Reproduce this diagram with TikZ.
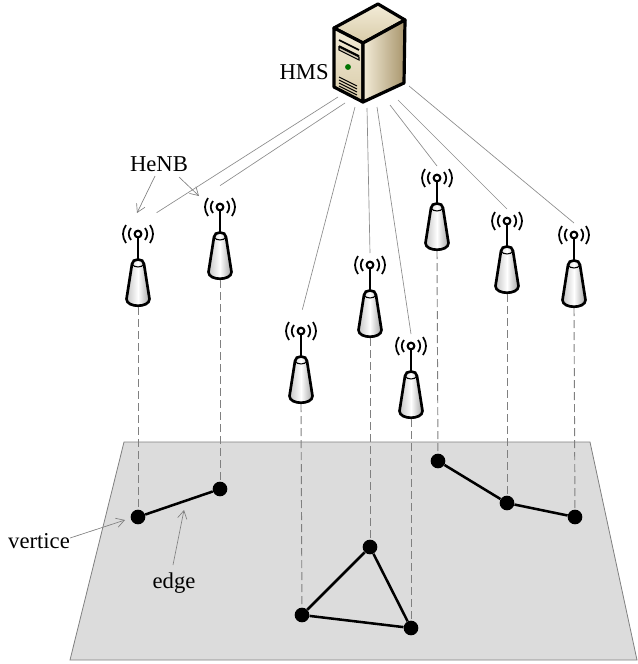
\documentclass[tikz,border=0pt]{standalone}
\usepackage{fontspec}
\setmainfont{Liberation Serif}
\usepackage{tikz}
\usetikzlibrary{arrows.meta, positioning}

\definecolor{planegray}{HTML}{DCDCDC}
\definecolor{linkgray}{HTML}{8C8C8C}
\definecolor{tanlight}{HTML}{F3ECD8}
\definecolor{tanmid}{HTML}{D8CBA8}
\definecolor{tandark}{HTML}{A8956C}

\begin{document}
\begin{tikzpicture}[
  x=0.75pt, y=-0.75pt,
  label/.style={font=\fontsize{17}{20}\selectfont, inner sep=0pt},
  link/.style={draw=linkgray, line width=0.5pt},
  drop/.style={draw=gray, line width=0.7pt, dash pattern=on 6pt off 3pt},
  pointer/.style={draw=gray, line width=0.5pt, -{Straight Barb[length=6pt,width=7pt]}},
  edgeline/.style={line width=1.9pt},
  vertex/.style={circle, fill=black, minimum size=11pt, inner sep=0pt},
  tipdot/.style={circle, draw, fill=white, line width=1.6pt, minimum size=5pt, inner sep=0pt},
  pics/henb/.style={code={
    \draw[line width=2pt] (0,0) -- (0,27);
    \draw[line width=1.3pt] (-7,-6) .. controls (-10,-2) and (-10,2) .. (-7,6);
    \draw[line width=1.3pt] (7,-6) .. controls (10,-2) and (10,2) .. (7,6);
    \draw[line width=1.3pt] (-12,-9) .. controls (-16,-3) and (-16,3) .. (-12,9);
    \draw[line width=1.3pt] (12,-9) .. controls (16,-3) and (16,3) .. (12,9);
    \draw[line width=2pt, left color=gray!45, right color=gray!70, middle color=white]
      (-6,30) .. controls (-6,24) and (6,24) .. (6,30) -- (11.5,65)
      .. controls (11.5,74) and (-11.5,74) .. (-11.5,65) -- cycle;
    \draw[line width=0.8pt] (-6,30) .. controls (-4,34) and (4,34) .. (6,30);
    \node[tipdot] at (0,0) {};
    \coordinate (-top) at (0,-12);
    \coordinate (-bot) at (0,73);
  }},
]
% Plane
\fill[planegray] (124,442) -- (590,442) -- (637,660) -- (70,660) -- cycle;
\draw[gray, line width=0.6pt] (124,442) -- (590,442) -- (637,660) -- (70,660) -- cycle;

% Server
\draw[line width=2.4pt, line join=round, top color=tanlight, bottom color=tanmid]
  (334,28) -- (378,4) -- (405,20) -- (363,43) -- cycle;
\draw[line width=2.4pt, line join=round, top color=tanlight, bottom color=tanmid]
  (334,28) -- (363,43) -- (363,102) -- (334,87) -- cycle;
\draw[line width=2.4pt, line join=round, left color=tanlight, right color=tandark]
  (363,43) -- (405,20) -- (404,83) -- (363,102) -- cycle;
\draw[line width=1.2pt] (339,40) -- (359,50);
\draw[line width=1.2pt] (339,46) -- (359,56);
\draw[line width=0.8pt, fill=tandark!50] (339,47) -- (359,57) -- (359,60) -- (339,50) -- cycle;
\fill[green!45!black] (348,67) circle (2.2pt);
\foreach \y in {77,80,83,86}
  \draw[line width=0.8pt] (339,\y) -- (357,\y+9);

% Labels
\node[label, anchor=east] (hms) at (329,72) {HMS};
\node[label] (henblabel) at (159,164) {HeNB};
\node[label] (verticelabel) at (39,541) {vertice};
\node[label] (edgelabel) at (174,583) {edge};

% Antennas
\pic (h1) at (138,234) {henb};
\pic (h2) at (220,207) {henb};
\pic (h3) at (301,331) {henb};
\pic (h4) at (370,265) {henb};
\pic (h5) at (411,346) {henb};
\pic (h6) at (437,178) {henb};
\pic (h7) at (507,221) {henb};
\pic (h8) at (574,235) {henb};

% Vertices
\node[vertex] (v1) at (138,517) {};
\node[vertex] (v2) at (220,489) {};
\node[vertex] (v3) at (302,615) {};
\node[vertex] (v4) at (370,547) {};
\node[vertex] (v5) at (411,628) {};
\node[vertex] (v6) at (438,461) {};
\node[vertex] (v7) at (507,503) {};
\node[vertex] (v8) at (575,517) {};

% Edges
\draw[edgeline] (v1) -- (v2);
\draw[edgeline] (v3) -- (v4);
\draw[edgeline] (v4) -- (v5);
\draw[edgeline] (v5) -- (v3);
\draw[edgeline] (v6) -- (v7);
\draw[edgeline] (v7) -- (v8);

% Dashed drops
\draw[drop] (h1-bot) -- (v1);
\draw[drop] (h2-bot) -- (v2);
\draw[drop] (h3-bot) -- (v3);
\draw[drop] (h4-bot) -- (v4);
\draw[drop] (h5-bot) -- (v5);
\draw[drop] (h6-bot) -- (v6);
\draw[drop] (h7-bot) -- (v7);
\draw[drop] (h8-bot) -- (v8);

% Links from the server
\coordinate (s1) at (338,97);
\coordinate (s2) at (345,103);
\coordinate (s3) at (355,107);
\coordinate (s4) at (367,108);
\coordinate (s5) at (377,107);
\coordinate (s6) at (390,105);
\coordinate (s7) at (398,100);
\coordinate (s8) at (409,86);
\draw[link] (s1) -- ([xshift=14pt,yshift=7pt]h1-top);
\draw[link] (s2) -- ([yshift=7pt]h2-top);
\draw[link] (s3) -- ([xshift=1pt,yshift=7pt]h3-top);
\draw[link] (s4) -- (h4-top);
\draw[link] (s5) -- (h5-top);
\draw[link] (s6) -- (h6-top);
\draw[link] (s7) -- (h7-top);
\draw[link] (s8) -- (h8-top);

% Pointers
\coordinate (p1) at (137,213);
\coordinate (p2) at (199,196);
\coordinate (p3) at (125,520);
\coordinate (p4) at (184,510);
\draw[pointer] (155,176) -- (p1);
\draw[pointer] (179,177) -- (p2);
\draw[pointer] (verticelabel.east) ++(0,-3) -- (p3);
\draw[pointer] (173,565) -- (p4);

\useasboundingbox (0,0) rectangle (637,664);
\end{tikzpicture}
\end{document}
